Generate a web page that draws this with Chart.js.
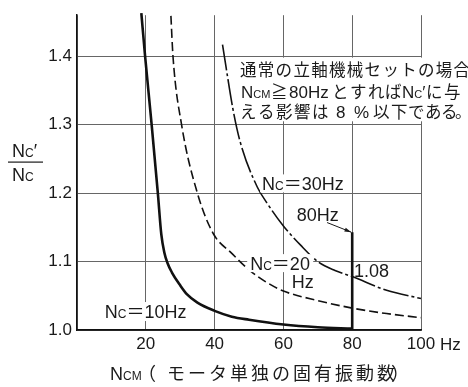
<!DOCTYPE html>
<html>
<head>
<meta charset="utf-8">
<script src="https://cdn.jsdelivr.net/npm/chart.js@4/dist/chart.umd.min.js"></script>
<style>
  html, body { margin: 0; padding: 0; background: #fff; }
  #wrap { width: 468px; height: 387px; }
</style>
</head>
<body>
<div id="wrap"><canvas id="c" width="468" height="387"></canvas></div>
<script>
// Axis ticks
const xTicks = [0, 20, 40, 60, 80, 100];
const yTicks = [1.0, 1.1, 1.2, 1.3, 1.4];

// Nc = 10 Hz curve (solid)
const nc10X = [18.7, 19.8, 21.7, 23.5, 24.5, 25.4, 26.3, 27.6, 29.9, 32.0, 35.0, 40.0, 45.0, 50.0, 60.0, 70.0, 80.0];
const nc10Y = [1.463, 1.40, 1.30, 1.20, 1.14, 1.113, 1.098, 1.084, 1.066, 1.052, 1.040, 1.028, 1.0195, 1.015, 1.008, 1.004, 1.002];

// Nc = 20 Hz curve (dashed)
const nc20X = [27.3, 27.9, 30.4, 35.0, 39.6, 45.0, 50.0, 55.0, 60.0, 70.0, 80.0, 90.0, 100.0];
const nc20Y = [1.459, 1.40, 1.30, 1.20, 1.141, 1.112, 1.088, 1.070, 1.057, 1.043, 1.032, 1.024, 1.018];

// Nc = 30 Hz curve (dash-dot)
const nc30X = [42.3, 45.4, 47.6, 52.4, 55.3, 60.0, 65.0, 70.0, 75.0, 80.0, 90.0, 100.0];
const nc30Y = [1.417, 1.321, 1.272, 1.209, 1.185, 1.152, 1.124, 1.100, 1.087, 1.078, 1.058, 1.046];

// Marker line at NCM = 80 Hz
const markX = [80, 80];
const markY = [1.0, 1.143];
const markValue = '1.08';

// Text
const noteLine1 = ['通','常','の','立','軸','機','械','セ','ッ','ト','の','場','合'];
const noteLine3a = ['え','る','影','響','は'];
const noteLine3b = ['以','下','で','あ','る','。'];
const xTitleJP = ['（','モ','ー','タ','単','独','の','固','有','振','動','数','）'];

const FONT = '"Liberation Sans","Noto Sans CJK JP",sans-serif';
const JP = '"Noto Sans CJK JP",sans-serif';
const fnt = (s, fam) => `${s}px ${fam || FONT}`;

const pts = (xs, ys) => xs.map((x, i) => ({ x, y: ys[i] }));

function rich(ctx, x, y, parts) {
  for (const [t, s] of parts) {
    ctx.font = fnt(s);
    ctx.fillText(t, x, y);
    x += ctx.measureText(t).width;
  }
  return x;
}
function cells(ctx, chars, xs, y, size) {
  ctx.font = fnt(size, JP);
  chars.forEach((c, i) => ctx.fillText(c, xs[i], y));
}
function white(ctx, x, y, w, h) {
  ctx.fillStyle = '#fff';
  ctx.fillRect(x, y, w, h);
}

const annotations = {
  id: 'annotations',
  afterDatasetsDraw(chart) {
    const ctx = chart.ctx;
    const xs = chart.scales.x, ys = chart.scales.y;
    const px = v => xs.getPixelForValue(v);
    const py = v => ys.getPixelForValue(v);
    ctx.save();
    ctx.textBaseline = 'alphabetic';
    ctx.textAlign = 'left';
    const ink = '#1a1a1a';

    // note block, upper right
    const bx = px(46.4), btop = py(1.398), bbot = py(1.305);
    white(ctx, bx, btop, 468 - bx, bbot - btop);
    ctx.fillStyle = ink;
    cells(ctx, noteLine1, noteLine1.map((c, i) => 240 + i * 17.8), btop + 18, 16.5);
    // line 2
    const y2 = btop + 40;
    rich(ctx, 241, y2, [['N', 17], ['CM', 11]]);
    ctx.font = fnt(16.5, JP); ctx.fillText('≧', 271, y2);
    rich(ctx, 289, y2, [['80Hz', 17]]);
    cells(ctx, ['と','す','れ','ば'], [332, 350, 368, 385], y2, 16.5);
    rich(ctx, 402, y2, [['N', 17], ['C', 11], ['′', 17]]);
    cells(ctx, ['に','与'], [426, 444], y2, 16.5);
    // line 3
    const y3 = btop + 60;
    cells(ctx, noteLine3a, [240, 258, 276, 294, 312], y3, 16.5);
    rich(ctx, 336, y3, [['8', 17]]);
    rich(ctx, 354, y3, [['%', 17]]);
    cells(ctx, noteLine3b, [373, 391, 408, 425, 441, 455], y3, 16.5);

    // curve labels
    let lx = px(8.1), ly = py(1.0175);
    white(ctx, lx - 2, ly - 16, 90, 19);
    ctx.fillStyle = ink;
    rich(ctx, lx, ly, [['N', 18], ['C', 12], ['＝', 18], ['10Hz', 18]]);

    lx = px(50.35); ly = py(1.0875);
    white(ctx, lx - 3, ly - 16, 66, 18);
    ctx.fillStyle = ink;
    rich(ctx, lx, ly, [['N', 18], ['C', 12], ['＝', 18], ['20', 18]]);
    rich(ctx, px(62.4), py(1.061), [['Hz', 18]]);

    lx = px(53.8); ly = py(1.204);
    white(ctx, lx - 2, ly - 16, 88, 18);
    ctx.fillStyle = ink;
    rich(ctx, lx, ly, [['N', 18], ['C', 12], ['＝', 18], ['30Hz', 18]]);

    rich(ctx, px(63.9), py(1.160), [['80Hz', 18]]);
    rich(ctx, px(80.5), py(1.0777), [[markValue, 18]]);

    // arrow from "80Hz" to the top of the marker line
    const ax0 = px(72.7), ay0 = py(1.157);
    const ax1 = px(markX[1]) - 1, ay1 = py(markY[1]);
    ctx.strokeStyle = ink; ctx.lineWidth = 1;
    ctx.beginPath(); ctx.moveTo(ax0, ay0); ctx.lineTo(ax1, ay1); ctx.stroke();
    const ang = Math.atan2(ay1 - ay0, ax1 - ax0);
    ctx.beginPath();
    ctx.moveTo(ax1, ay1);
    ctx.lineTo(ax1 - 7 * Math.cos(ang - 0.3), ay1 - 7 * Math.sin(ang - 0.3));
    ctx.lineTo(ax1 - 7 * Math.cos(ang + 0.3), ay1 - 7 * Math.sin(ang + 0.3));
    ctx.closePath(); ctx.fill();

    // unit after the last x tick
    ctx.font = fnt(17);
    ctx.fillText('Hz', px(100) + 19, 350);

    // x-axis title
    const tb = 380;
    rich(ctx, 110, tb, [['N', 18], ['CM', 12]]);
    const tx = [138, 167, 188, 209, 230, 251, 272, 293, 314, 335, 356, 377, 391];
    cells(ctx, xTitleJP, tx, tb, 18);

    // y-axis title as a fraction
    rich(ctx, 12, 157, [['N', 18], ['C', 12], ['′', 18]]);
    ctx.fillRect(8, 161.5, 35, 1.2);
    rich(ctx, 12, 181, [['N', 18], ['C', 12]]);

    ctx.restore();
  }
};

new Chart(document.getElementById('c'), {
  type: 'line',
  data: {
    datasets: [
      { data: pts(nc10X, nc10Y), borderColor: '#111', borderWidth: 2.6, cubicInterpolationMode: 'monotone', clip: 3 },
      { data: pts(nc20X, nc20Y), borderColor: '#111', borderWidth: 1.6, borderDash: [9, 4], cubicInterpolationMode: 'monotone', clip: 3 },
      { data: pts(nc30X, nc30Y), borderColor: '#111', borderWidth: 1.6, borderDash: [26, 3, 3, 3], cubicInterpolationMode: 'monotone', clip: 3 },
      { data: pts(markX, markY), borderColor: '#111', borderWidth: 2.6 }
    ]
  },
  options: {
    responsive: false,
    animation: false,
    devicePixelRatio: 1,
    layout: { padding: { left: 0, right: 47, top: 14, bottom: 0 } },
    elements: { point: { radius: 0 } },
    plugins: { legend: { display: false }, tooltip: { enabled: false } },
    scales: {
      x: {
        type: 'linear', min: 0, max: 100,
        afterBuildTicks: s => { s.ticks = xTicks.map(v => ({ value: v })); },
        afterFit: s => { s.height = 57; },
        ticks: {
          callback: v => (v === 0 ? '' : String(v)),
          font: { family: FONT, size: 17 }, color: '#1a1a1a',
          padding: 4, maxRotation: 0, autoSkip: false
        },
        grid: { color: '#666', lineWidth: 1, drawTicks: false },
        border: { color: '#111', width: 1.8 }
      },
      y: {
        type: 'linear', min: 1.0, max: 1.46,
        afterBuildTicks: s => { s.ticks = yTicks.map(v => ({ value: v })); },
        afterFit: s => { s.width = 77; },
        ticks: {
          callback: v => v.toFixed(1),
          font: { family: FONT, size: 17 }, color: '#1a1a1a',
          padding: 5
        },
        grid: { color: '#666', lineWidth: 1, drawTicks: false },
        border: { color: '#111', width: 1.5 }
      }
    }
  },
  plugins: [annotations]
});
</script>
</body>
</html>
